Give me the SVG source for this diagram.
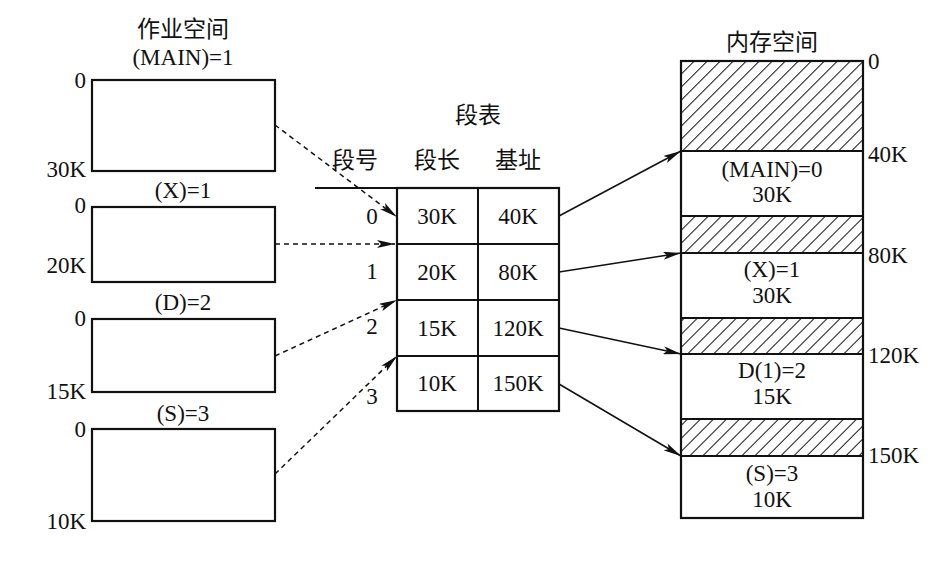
<svg xmlns="http://www.w3.org/2000/svg" width="952" height="561" viewBox="0 0 952 561">
<style>
text{font-family:"Liberation Serif","Noto Sans CJK SC",serif;font-size:23px;fill:#111}
.c{text-anchor:middle}
.r{text-anchor:end}
.box{fill:none;stroke:#111;stroke-width:2.2}
.ln{stroke:#111;stroke-width:2;fill:none}
.sol{stroke:#111;stroke-width:1.5;fill:none}
.dash{stroke:#111;stroke-width:1.5;fill:none;stroke-dasharray:5 4}
</style>
<defs>
<marker id="ah" viewBox="0 0 18 8" refX="18" refY="4" markerWidth="18" markerHeight="8" markerUnits="userSpaceOnUse" orient="auto">
<path d="M0,0 L18,4 L0,8 L4,4 Z" fill="#111"/>
</marker>
<pattern id="hatch" patternUnits="userSpaceOnUse" width="9.2" height="9.2" patternTransform="rotate(45)">
<line x1="0" y1="0" x2="0" y2="9.2" stroke="#111" stroke-width="2"/>
</pattern>
</defs>

<g id="job-space">
<text class="c" x="183" y="37">作业空间</text>
</g>
<g id="seg-main">
<text class="c" x="183" y="65">(MAIN)=1</text>
<rect class="box" x="92" y="80" width="183" height="91"/>
<text class="r" x="86" y="88">0</text>
<text class="r" x="86" y="177">30K</text>
</g>
<g id="seg-x">
<text class="c" x="183" y="198">(X)=1</text>
<rect class="box" x="92" y="207" width="183" height="75"/>
<text class="r" x="86" y="213">0</text>
<text class="r" x="86" y="273">20K</text>
</g>
<g id="seg-d">
<text class="c" x="183" y="310">(D)=2</text>
<rect class="box" x="92" y="319" width="183" height="73"/>
<text class="r" x="86" y="326">0</text>
<text class="r" x="86" y="399">15K</text>
</g>
<g id="seg-s">
<text class="c" x="183" y="421">(S)=3</text>
<rect class="box" x="92" y="429" width="183" height="92"/>
<text class="r" x="86" y="437">0</text>
<text class="r" x="86" y="529">10K</text>
</g>

<g id="seg-table">
<text class="c" x="478" y="123">段表</text>
<text class="c" x="355" y="168">段号</text>
<text class="c" x="437" y="168">段长</text>
<text class="c" x="518" y="168">基址</text>
<line class="ln" x1="315" y1="188" x2="559" y2="188"/>
<rect class="box" x="397" y="188" width="162" height="223"/>
<line class="ln" x1="478" y1="188" x2="478" y2="411"/>
<line class="ln" x1="397" y1="244" x2="559" y2="244"/>
<line class="ln" x1="397" y1="300" x2="559" y2="300"/>
<line class="ln" x1="397" y1="356" x2="559" y2="356"/>
<text class="c" x="372" y="224">0</text>
<text class="c" x="372" y="279">1</text>
<text class="c" x="372" y="334">2</text>
<text class="c" x="372" y="404">3</text>
<text class="c" x="437" y="224">30K</text>
<text class="c" x="518" y="224">40K</text>
<text class="c" x="437" y="280">20K</text>
<text class="c" x="518" y="280">80K</text>
<text class="c" x="437" y="336">15K</text>
<text class="c" x="518" y="336">120K</text>
<text class="c" x="437" y="391">10K</text>
<text class="c" x="518" y="391">150K</text>
</g>

<g id="memory">
<text class="c" x="772" y="50">内存空间</text>
<rect x="681" y="61" width="182" height="90" fill="url(#hatch)"/>
<rect x="681" y="216" width="182" height="37" fill="url(#hatch)"/>
<rect x="681" y="318" width="182" height="36" fill="url(#hatch)"/>
<rect x="681" y="419" width="182" height="37" fill="url(#hatch)"/>
<rect class="box" x="681" y="61" width="182" height="457"/>
<line class="ln" x1="681" y1="151" x2="863" y2="151"/>
<line class="ln" x1="681" y1="216" x2="863" y2="216"/>
<line class="ln" x1="681" y1="253" x2="863" y2="253"/>
<line class="ln" x1="681" y1="318" x2="863" y2="318"/>
<line class="ln" x1="681" y1="354" x2="863" y2="354"/>
<line class="ln" x1="681" y1="419" x2="863" y2="419"/>
<line class="ln" x1="681" y1="456" x2="863" y2="456"/>
<text x="868" y="69">0</text>
<text x="868" y="162">40K</text>
<text x="868" y="263">80K</text>
<text x="868" y="363">120K</text>
<text x="868" y="463">150K</text>
<text class="c" x="772" y="177">(MAIN)=0</text>
<text class="c" x="772" y="202">30K</text>
<text class="c" x="772" y="277">(X)=1</text>
<text class="c" x="772" y="303">30K</text>
<text class="c" x="772" y="378">D(1)=2</text>
<text class="c" x="772" y="404">15K</text>
<text class="c" x="772" y="481">(S)=3</text>
<text class="c" x="772" y="507">10K</text>
</g>

<g id="connectors">
<line class="dash" x1="275" y1="125" x2="397" y2="217" marker-end="url(#ah)"/>
<line class="dash" x1="275" y1="244" x2="395" y2="244" marker-end="url(#ah)"/>
<line class="dash" x1="275" y1="356" x2="397" y2="300" marker-end="url(#ah)"/>
<line class="dash" x1="275" y1="474" x2="397" y2="356" marker-end="url(#ah)"/>
<line class="sol" x1="559" y1="216" x2="681" y2="151" marker-end="url(#ah)"/>
<line class="sol" x1="559" y1="272" x2="681" y2="253" marker-end="url(#ah)"/>
<line class="sol" x1="559" y1="328" x2="681" y2="354" marker-end="url(#ah)"/>
<line class="sol" x1="559" y1="384" x2="681" y2="456" marker-end="url(#ah)"/>
</g>
</svg>
